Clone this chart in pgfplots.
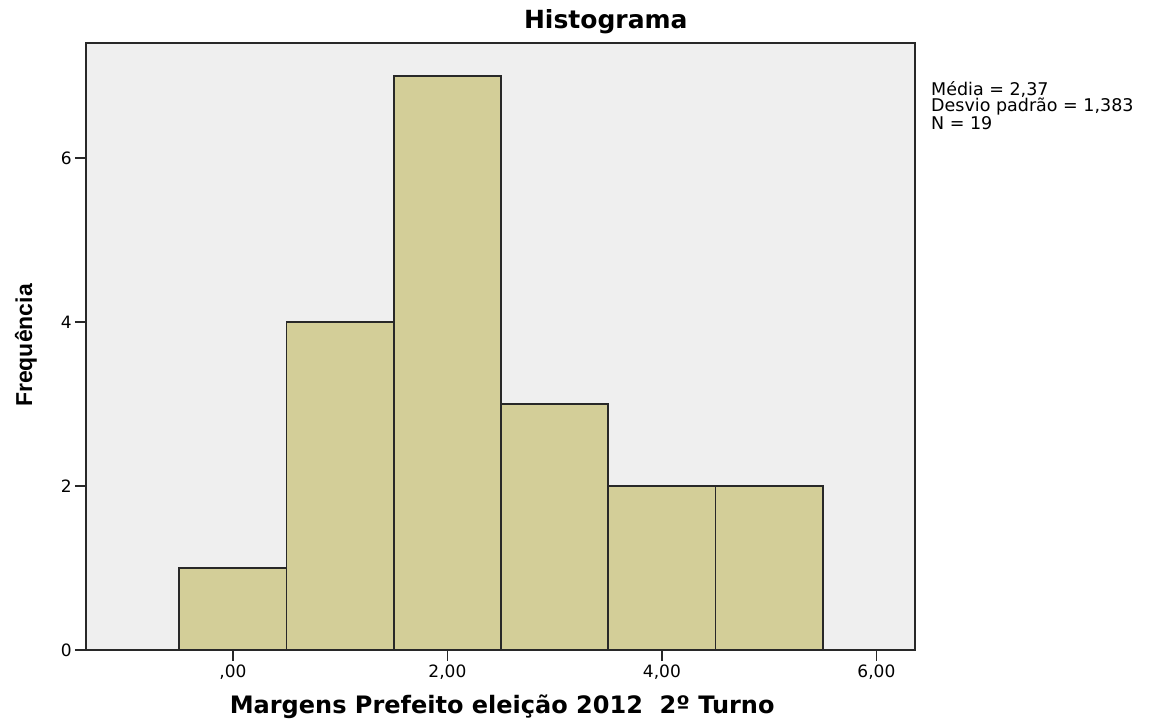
\documentclass[border=0pt]{standalone}
\usepackage{pgfplots}
\pgfplotsset{compat=1.18}
\usepackage{fontspec}
\setmainfont{DejaVu Sans}
\newfontfamily\labfont{Liberation Sans}
\definecolor{bgc}{RGB}{239,239,239}
\definecolor{barc}{RGB}{211,206,152}
\definecolor{edgec}{RGB}{40,40,40}
\begin{document}
\begin{tikzpicture}
\path[use as bounding box] (-86pt,-72pt) rectangle (1067pt,650pt);
\begin{axis}[
  at={(0pt,0pt)}, anchor=south west,
  scale only axis, width=829pt, height=607pt,
  clip=false,
  xmin=-1.37, xmax=6.36, ymin=0, ymax=7.4,
  axis background/.style={fill=bgc},
  axis line style={draw=edgec, line width=1.6pt},
  tick align=outside, xtick pos=bottom, ytick pos=left,
  major tick length=11pt,
  tick style={draw=edgec, line width=1.4pt},
  xtick={0,2,4,6}, xticklabels={{,00},{2,00},{4,00},{6,00}},
  ytick={0,2,4,6}, yticklabels={0,2,4,6},
  ticklabel style={font=\fontsize{17}{17}\selectfont},
  xticklabel style={inner sep=4pt},
  yticklabel style={inner sep=3pt},
  title={Histograma},
  title style={font=\fontsize{25}{25}\selectfont\bfseries,
    at={(axis description cs:0.627,1.0148)}, anchor=base, inner sep=0pt},
  xlabel={Margens Prefeito eleição 2012\ \ 2º Turno},
  xlabel style={font=\fontsize{24}{24}\selectfont\bfseries,
    at={(axis description cs:0.502,-0.1054)}, anchor=base, inner sep=0pt},
  ylabel={Frequência},
  ylabel style={font=\labfont\fontsize{23}{23}\selectfont\bfseries,
    at={(axis description cs:-0.0724,0.5016)}, anchor=center, inner sep=0pt},
]
\addplot[ybar interval, fill=barc, draw=edgec, line width=1.7pt]
  coordinates {(-0.5,1)(0.5,4)(1.5,7)(2.5,3)(3.5,2)(4.5,2)(5.5,2)};
\node[anchor=north west, inner sep=0pt, align=left,
  font=\fontsize{17.5}{15.4}\selectfont]
  at (axis description cs:1.0193,0.9374)
  {Média = 2,37\\Desvio padrão = 1,383\\N = 19};
\end{axis}
\end{tikzpicture}
\end{document}
